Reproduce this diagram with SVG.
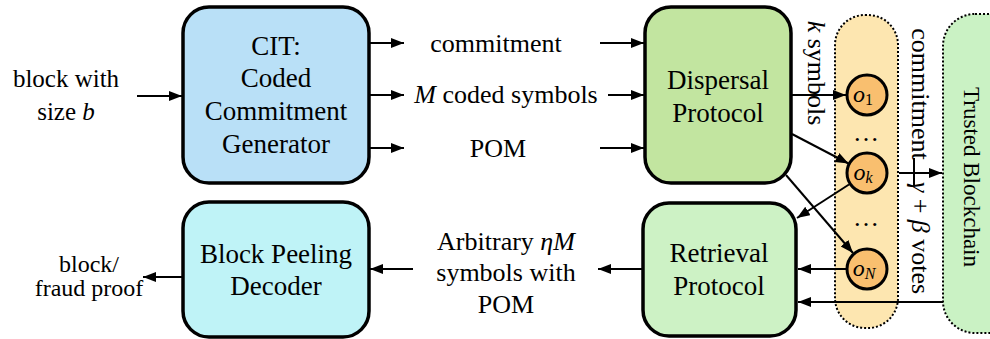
<svg xmlns="http://www.w3.org/2000/svg" width="990" height="339" viewBox="0 0 990 339">
<defs>
<marker id="ah" markerUnits="userSpaceOnUse" markerWidth="14" markerHeight="11" refX="13" refY="5" orient="auto">
<path d="M0,0 L13,5 L0,10 z" fill="#000"/>
</marker>
</defs>
<style>
text, tspan { font-family: 'Liberation Serif', 'DejaVu Serif', serif; fill: #000; }
.box{stroke:#000;stroke-width:3.5}
.lbl{font-size:27px;text-anchor:middle}
.el{font-size:26px;text-anchor:middle}
.sm{font-size:24px;text-anchor:middle}
.pill{stroke:#000;stroke-width:2;stroke-dasharray:2 2}
.node{fill:#f9bf6f;stroke:#000;stroke-width:3}
.c line{stroke:#000;stroke-width:2;fill:none;marker-end:url(#ah)}
.it{font-style:italic}
</style>
<rect width="990" height="339" fill="#fff"/>

<g id="chain">
<rect class="pill" x="943" y="14" width="80" height="319" rx="32" fill="#caf2c4"/>
<text transform="translate(964,177) rotate(90)" font-family="Liberation Serif, serif" style="font-size:23px;text-anchor:middle">Trusted Blockchain</text>
</g>

<g id="oracles">
<rect class="pill" x="835" y="15" width="63" height="313" rx="30" fill="#fde6b0"/>
<text x="866" y="141" class="el">…</text>
<text x="866" y="226" class="el">…</text>
</g>

<g id="cit">
<rect class="box" x="183" y="7" width="186" height="176" rx="26" fill="#b9e0f7"/>
<text class="lbl" x="276" y="55">CIT:</text>
<text class="lbl" x="276" y="87">Coded</text>
<text class="lbl" x="276" y="120">Commitment</text>
<text class="lbl" x="276" y="153">Generator</text>
</g>

<g id="decoder">
<rect class="box" x="183" y="202" width="186" height="135" rx="26" fill="#bff3f7"/>
<text class="lbl" x="276" y="263">Block Peeling</text>
<text class="lbl" x="276" y="295">Decoder</text>
</g>

<g id="dispersal">
<rect class="box" x="645" y="7" width="146" height="176" rx="26" fill="#c2e5a0"/>
<text class="lbl" x="718" y="89">Dispersal</text>
<text class="lbl" x="718" y="122">Protocol</text>
</g>

<g id="retrieval">
<rect class="box" x="643" y="203" width="153" height="133" rx="26" fill="#cdf2c5"/>
<text class="lbl" x="719" y="262">Retrieval</text>
<text class="lbl" x="719" y="295">Protocol</text>
</g>

<g id="o1">
<circle class="node" cx="867" cy="95" r="20"/>
<text x="863" y="102" style="font-size:24px;text-anchor:middle"><tspan class="it">o</tspan><tspan font-size="16" dy="3">1</tspan></text>
</g>
<g id="ok">
<circle class="node" cx="867" cy="173" r="20"/>
<text x="863" y="180" style="font-size:24px;text-anchor:middle"><tspan class="it">o</tspan><tspan class="it" font-size="16" dy="3">k</tspan></text>
</g>
<g id="oN">
<circle class="node" cx="867" cy="269" r="20"/>
<text x="864" y="276" style="font-size:24px;text-anchor:middle"><tspan class="it">o</tspan><tspan class="it" font-size="16" dy="3">N</tspan></text>
</g>

<g id="labels">
<text class="el" x="66" y="87" style="font-size:25px">block with</text>
<text class="el" x="66" y="120" style="font-size:25px">size <tspan class="it">b</tspan></text>
<text class="el" x="496" y="52">commitment</text>
<text class="el" x="506" y="103"><tspan class="it">M</tspan> coded symbols</text>
<text class="el" x="498" y="157">POM</text>
<text class="el" x="506" y="250">Arbitrary <tspan class="it">ηM</tspan></text>
<text class="el" x="506" y="281">symbols with</text>
<text class="el" x="506" y="313">POM</text>
<text class="sm" x="89" y="272">block/</text>
<text class="sm" x="89" y="296">fraud proof</text>
<text transform="translate(808,73) rotate(90)" class="el"><tspan class="it">k</tspan> symbols</text>
<text transform="translate(912,94) rotate(90)" class="el">commitment</text>
<text transform="translate(912,238) rotate(90)" class="el"><tspan class="it">γ</tspan> + <tspan class="it">β</tspan> votes</text>
</g>

<g id="connectors" class="c">
<line x1="137" y1="96" x2="182" y2="96"/>
<line x1="370" y1="43" x2="404" y2="43"/>
<line x1="370" y1="95" x2="404" y2="95"/>
<line x1="370" y1="148" x2="404" y2="148"/>
<line x1="600" y1="43" x2="644" y2="43"/>
<line x1="608" y1="95" x2="644" y2="95"/>
<line x1="600" y1="148" x2="644" y2="148"/>
<line x1="791" y1="95" x2="846" y2="95"/>
<line x1="792" y1="134" x2="848.5" y2="163.5"/>
<line x1="786" y1="175" x2="853" y2="253"/>
<line x1="849" y1="184.5" x2="797" y2="218"/>
<line x1="846" y1="269" x2="798" y2="269"/>
<line x1="943" y1="302" x2="798" y2="302"/>
<line x1="899" y1="173" x2="942" y2="173"/>
<line x1="642" y1="269" x2="598" y2="269"/>
<line x1="413" y1="269" x2="370" y2="269"/>
<line x1="183" y1="277" x2="143" y2="277"/>
<line x1="914" y1="158" x2="914" y2="186" style="marker-end:none"/>
</g>
</svg>
